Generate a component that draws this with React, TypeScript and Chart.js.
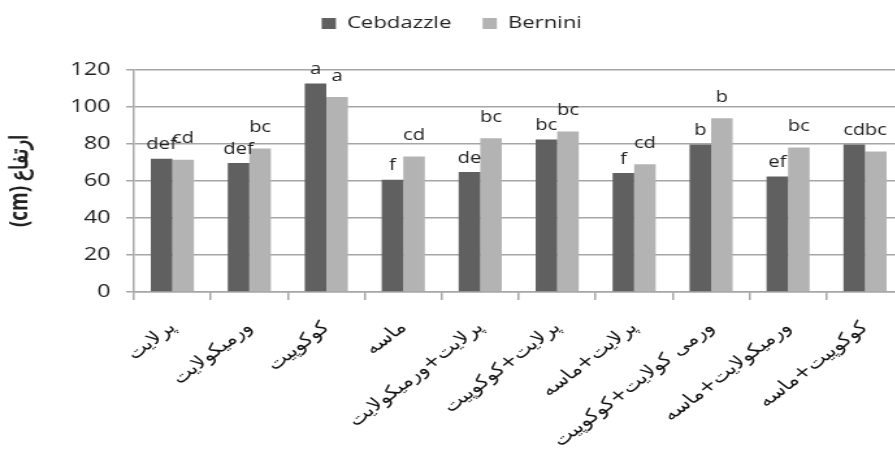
import React, { useEffect, useRef } from "react";
import { Chart, registerables } from "chart.js";

Chart.register(...registerables);

const categories = [
  "پرلایت",
  "ورمیکولایت",
  "کوکوپیت",
  "ماسه",
  "پرلایت+ورمیکولایت",
  "پرلایت+کوکوپیت",
  "پرلایت+ماسه",
  "ورمی کولایت+کوکوپیت",
  "ورمیکولایت+ماسه",
  "کوکوپیت+ماسه",
];
const cebdazzle = [72.0, 69.7, 112.7, 60.7, 64.8, 82.4, 64.3, 79.7, 62.5, 79.7];
const bernini = [71.5, 77.6, 105.4, 73.3, 83.1, 86.7, 69.1, 93.9, 78.1, 76.0];
const cebdazzleLetters = ["def", "def", "a", "f", "de", "bc", "f", "b", "ef", "cd"];
const berniniLetters = ["cd", "bc", "a", "cd", "bc", "bc", "cd", "b", "bc", "bc"];
const yTitle = "(cm) ارتفاع";

const STRETCH = 1.3;
const LETTER_GAPS = [6, 13];

const letterPlugin = {
  id: "letters",
  afterDatasetsDraw(chart: any) {
    const ctx = chart.ctx;
    const sets = [cebdazzleLetters, berniniLetters];
    ctx.save();
    ctx.font = "15.5px 'Open Sans'";
    ctx.fillStyle = "#222";
    ctx.textAlign = "center";
    ctx.textBaseline = "bottom";
    sets.forEach((letters, di) => {
      const meta = chart.getDatasetMeta(di);
      meta.data.forEach((bar: any, i: number) => {
        ctx.fillText(letters[i], bar.x, bar.y - LETTER_GAPS[di]);
      });
    });
    ctx.restore();
  },
};

export default function App() {
  const ref = useRef<HTMLCanvasElement>(null);
  useEffect(() => {
    if (!ref.current) return;
    const chart = new Chart(ref.current, {
      type: "bar",
      data: {
        labels: categories,
        datasets: [
          {
            label: "Cebdazzle",
            data: cebdazzle,
            backgroundColor: "#606060",
            categoryPercentage: 0.56,
            barPercentage: 1.0,
          },
          {
            label: "Bernini",
            data: bernini,
            backgroundColor: "#b3b3b3",
            categoryPercentage: 0.56,
            barPercentage: 1.0,
          },
        ],
      },
      options: {
        responsive: false,
        animation: false,
        layout: { padding: { top: -9, right: 5, left: 0, bottom: 0 } },
        plugins: {
          legend: {
            position: "top",
            labels: {
              font: { family: "'Open Sans'", size: 17 },
              color: "#222",
              boxWidth: 11,
              boxHeight: 11,
              padding: 24,
            },
          },
          subtitle: {
            display: true,
            text: "",
            weight: 500,
            font: { size: 10 },
            padding: { top: 0, bottom: 16 },
          },
          tooltip: { enabled: false },
        },
        scales: {
          x: {
            grid: {
              offset: true,
              drawOnChartArea: false,
              drawTicks: true,
              tickLength: 8,
              color: "#a6a6a6",
              lineWidth: 1.5,
            },
            border: { color: "#a6a6a6", width: 1.5 },
            ticks: {
              autoSkip: false,
              minRotation: 45,
              maxRotation: 45,
              padding: 18,
              color: "#111",
              font: { family: "'DejaVu Sans'", size: 17 },
            },
            afterFit(scale: any) {
              scale.height = 165;
            },
          },
          y: {
            min: 0,
            max: 120,
            ticks: {
              stepSize: 20,
              padding: 12,
              color: "#222",
              font: { family: "'Open Sans'", size: 18 },
            },
            grid: { color: "#a6a6a6", lineWidth: 1.5, tickLength: 6 },
            border: { color: "#a6a6a6", width: 1.5 },
            title: {
              display: true,
              text: yTitle,
              color: "#222",
              font: { family: "'Open Sans'", size: 19, weight: "bold" },
              padding: { top: 4, bottom: 0 },
            },
            afterFit(scale: any) {
              scale.width = 103;
            },
          },
        },
      },
      plugins: [letterPlugin],
    });
    return () => chart.destroy();
  }, []);
  return (
    <div
      style={{
        position: "absolute",
        left: 0,
        top: 0,
        width: 895,
        height: 457,
        overflow: "hidden",
        background: "#fff",
      }}
    >
      <div
        style={{
          width: 700,
          height: 457,
          transform: `scaleX(${STRETCH})`,
          transformOrigin: "0 0",
        }}
      >
        <canvas ref={ref} width={700} height={457} />
      </div>
    </div>
  );
}
